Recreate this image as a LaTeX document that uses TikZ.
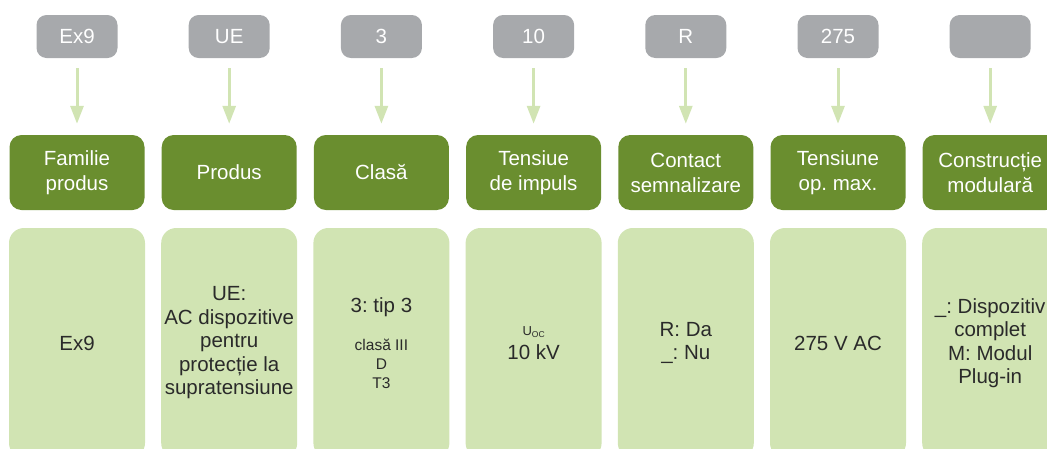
\documentclass[tikz,border=0pt]{standalone}
\usepackage{fontspec}
\setmainfont{Liberation Sans}
\usetikzlibrary{arrows.meta}
\frenchspacing

\definecolor{codegray}{HTML}{A7A9AC}
\definecolor{headgreen}{HTML}{6A8E2F}
\definecolor{bodygreen}{HTML}{D1E4B3}
\definecolor{bodytext}{HTML}{2A2A2A}

\newcommand{\smalltxt}{\fontsize{15.5}{18.5}\selectfont}

\begin{document}
\begin{tikzpicture}[x=1pt, y=1pt,
    % Style definitions
    codebox/.style={
        rectangle, rounded corners=10pt, fill=codegray,
        minimum width=81pt, minimum height=43pt, inner sep=0pt,
        text=white, font=\fontsize{20.5}{24}\selectfont
    },
    headbox/.style={
        rectangle, rounded corners=12pt, fill=headgreen,
        minimum width=135pt, minimum height=75pt, inner sep=0pt,
        text=white, align=center, font=\fontsize{20.5}{25}\selectfont
    },
    bodybox/.style={
        rectangle, rounded corners=15pt, fill=bodygreen,
        minimum width=136pt, minimum height=230pt, inner sep=0pt,
        text=bodytext, align=center, font=\fontsize{20.5}{23.5}\selectfont
    },
    codearrow/.style={
        -{Triangle[length=18pt, width=13pt]}, bodygreen, line width=3pt,
        shorten <=10pt, shorten >=11pt
    },
]

% Page frame
\useasboundingbox (0,0) rectangle (1047,-448);
\clip (0,0) rectangle (1047,-448);

% Column positions
\def\colA{77}
\def\colB{229.2}
\def\colC{381.4}
\def\colD{533.6}
\def\colE{685.8}
\def\colF{838}
\def\colG{990.2}

% Row positions (top to bottom)
\def\rowCode{-36.5}
\def\rowHead{-172.5}
\def\rowBody{-343}

% === Code boxes ===
\node[codebox] (code1) at (\colA, \rowCode) {Ex9};
\node[codebox] (code2) at (\colB, \rowCode) {UE};
\node[codebox] (code3) at (\colC, \rowCode) {3};
\node[codebox] (code4) at (\colD, \rowCode) {10};
\node[codebox] (code5) at (\colE, \rowCode) {R};
\node[codebox] (code6) at (\colF, \rowCode) {275};
\node[codebox] (code7) at (\colG, \rowCode) {};

% === Headers ===
\node[headbox] (head1) at (\colA, \rowHead) {Familie\\produs};
\node[headbox] (head2) at (\colB, \rowHead) {Produs};
\node[headbox] (head3) at (\colC, \rowHead) {Clasă};
\node[headbox] (head4) at (\colD, \rowHead) {Tensiue\\de impuls};
\node[headbox] (head5) at (\colE, \rowHead) {Contact\\semnalizare};
\node[headbox] (head6) at (\colF, \rowHead) {Tensiune\\op. max.};
\node[headbox] (head7) at (\colG, \rowHead) {Construcție\\modulară};

% === Values ===
\node[bodybox] (body1) at (\colA, \rowBody) {Ex9};
\node[bodybox] (body2) at (\colB, \rowBody) {UE:\\AC dispozitive\\pentru\\protecție la\\supratensiune};
\node[bodybox] (body3) at (\colC, \rowBody) {3: tip 3\\[14.8pt]{\smalltxt clasă III}\\[-4.5pt]{\smalltxt D}\\[-4.8pt]{\smalltxt T3}};
\node[bodybox] (body4) at (\colD, \rowBody) {{\fontsize{13}{15}\selectfont U\raisebox{-2.5pt}{\fontsize{8.5}{10}\selectfont OC}}\\[1pt]10 kV};
\node[bodybox] (body5) at (\colE, \rowBody) {R: Da\\\_: Nu};
\node[bodybox] (body6) at (\colF, \rowBody) {275 V AC};
\node[bodybox] (body7) at (\colG, \rowBody) {\_: Dispozitiv\\complet\\M: Modul\\Plug-in};

% === Arrows code -> header ===
\foreach \i in {1,...,7} {
    \draw[codearrow] (code\i.south) -- (head\i.north);
}

\end{tikzpicture}
\end{document}
